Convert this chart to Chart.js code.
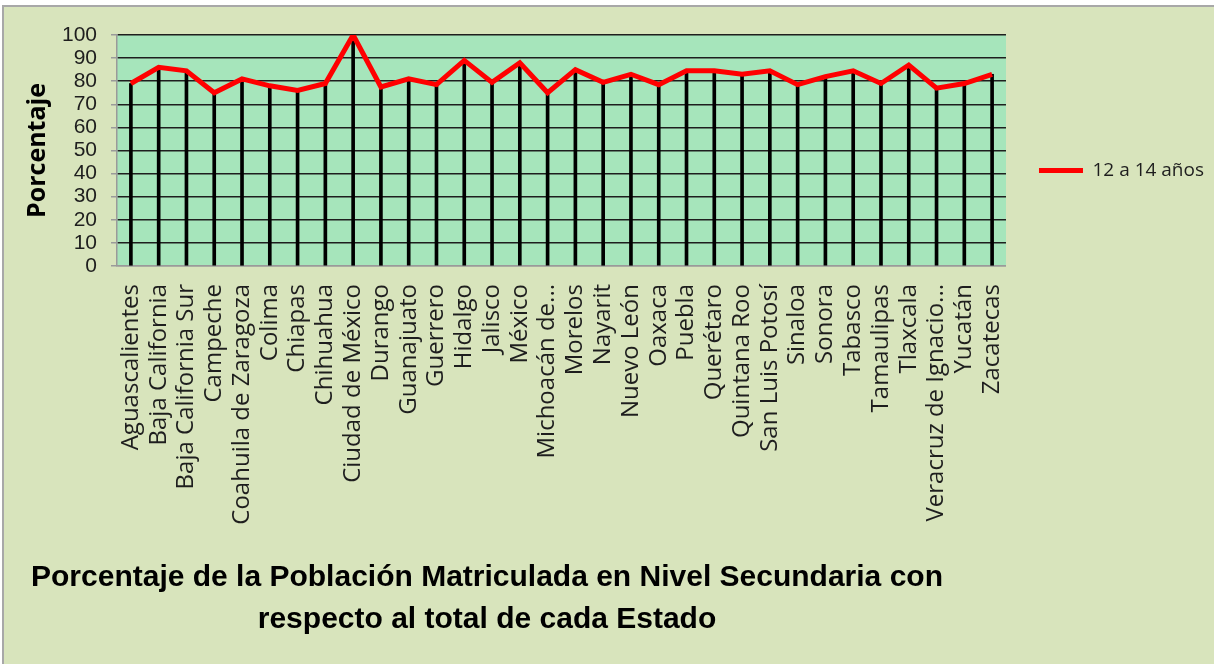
<!DOCTYPE html>
<html>
<head>
<meta charset="utf-8">
<script src="https://cdn.jsdelivr.net/npm/chart.js@4.4.0/dist/chart.umd.min.js"></script>
<style>
  html, body { margin: 0; padding: 0; background: #ffffff; overflow: hidden; }
  #frame { position: absolute; left: 2px; top: 5px; width: 1212px; height: 659px;
           border-left: 2px solid #a8a8a8; border-top: 2px solid #a8a8a8; background: #d8e4bc; }
  #wrap { position: absolute; left: 0; top: 0; width: 1210px; height: 657px; }
</style>
</head>
<body>
<div id="frame"><div id="wrap"><canvas id="c"></canvas></div></div>
<script>
const categories = [
  "Aguascalientes", "Baja California", "Baja California Sur", "Campeche",
  "Coahuila de Zaragoza", "Colima", "Chiapas", "Chihuahua", "Ciudad de México",
  "Durango", "Guanajuato", "Guerrero", "Hidalgo", "Jalisco", "México",
  "Michoacán de...", "Morelos", "Nayarit", "Nuevo León", "Oaxaca", "Puebla",
  "Querétaro", "Quintana Roo", "San Luis Potosí", "Sinaloa", "Sonora", "Tabasco",
  "Tamaulipas", "Tlaxcala", "Veracruz de Ignacio...", "Yucatán", "Zacatecas"
];
const values_12a14 = [
  79, 86, 84.5, 75, 81, 78, 76, 79, 100, 77.5, 81, 78.5, 89, 79.5, 88,
  75, 85, 79.5, 83, 78.5, 84.5, 84.5, 83, 84.5, 78.5, 82, 84.5, 79, 87, 77, 79, 83
];
const seriesName = "12 a 14 años";
const yAxisTitle = "Porcentaje";
const titleLines = [
  "Porcentaje de la Población Matriculada en Nivel Secundaria con",
  "respecto al total de cada Estado"
];
const yTicks = [0, 10, 20, 30, 40, 50, 60, 70, 80, 90, 100];

const plotBg = {
  id: 'plotBg',
  beforeDraw(chart) {
    const a = chart.chartArea, ctx = chart.ctx;
    ctx.save();
    ctx.fillStyle = '#a6e5bb';
    ctx.fillRect(a.left, a.top, a.right - a.left, a.bottom - a.top);
    ctx.restore();
  }
};
const bottomTitle = {
  id: 'bottomTitle',
  afterDraw(chart) {
    const ctx = chart.ctx;
    ctx.save();
    ctx.fillStyle = '#000000';
    ctx.font = 'bold 30px "Liberation Sans Narrow", "Arial Narrow", "Liberation Sans", sans-serif';
    ctx.textAlign = 'center';
    ctx.textBaseline = 'alphabetic';
    ctx.fillText(titleLines[0], 483, 579);
    ctx.fillText(titleLines[1], 483, 621);
    ctx.restore();
  }
};

new Chart(document.getElementById('c'), {
  data: {
    labels: categories,
    datasets: [
      {
        type: 'line',
        label: seriesName,
        data: values_12a14,
        borderColor: '#ff0000',
        backgroundColor: '#ff0000',
        borderWidth: 5,
        pointRadius: 0,
        tension: 0,
        order: 0
      },
      {
        type: 'bar',
        label: 'drop',
        data: values_12a14,
        backgroundColor: '#000000',
        barThickness: 3,
        order: 1
      }
    ]
  },
  options: {
    responsive: true,
    maintainAspectRatio: false,
    animation: false,
    layout: { padding: { top: 28, left: 8, right: 0, bottom: 0 } },
    plugins: {
      tooltip: { enabled: false },
      title: { display: false },
      legend: {
        position: 'right',
        fullSize: false,
        maxWidth: 230,
        title: { display: true, text: ' ', font: { size: 10 }, padding: { top: 28, bottom: 0 } },
        labels: {
          padding: 33,
          boxWidth: 44,
          boxHeight: 5,
          color: '#1e1e1e',
          font: { family: '"Open Sans", sans-serif', size: 19 },
          generateLabels(chart) {
            return [{ text: seriesName, fillStyle: '#ff0000', strokeStyle: '#ff0000',
                      fontColor: '#1e1e1e', lineWidth: 0, datasetIndex: 0, hidden: false }];
          }
        }
      }
    },
    scales: {
      x: {
        offset: true,
        grid: { display: false },
        border: { display: true, color: '#9a9a9a', width: 1.5 },
        afterFit(s) { s.height = 398; },
        ticks: {
          autoSkip: false,
          minRotation: 90,
          maxRotation: 90,
          padding: 10,
          color: '#1e1e1e',
          font: { family: '"Open Sans", sans-serif', size: 24 }
        }
      },
      y: {
        min: 0,
        max: 100,
        afterFit(s) { s.width = 105; },
        afterBuildTicks(s) { s.ticks = yTicks.map(v => ({ value: v })); },
        grid: {
          color: (ctx) => ctx.tick && ctx.tick.value === 0 ? '#9a9a9a' : '#1e1e1e',
          lineWidth: 1.5,
          drawTicks: true,
          tickLength: 6,
          tickColor: '#9a9a9a'
        },
        border: { display: true, color: '#9a9a9a', width: 1.5 },
        title: {
          display: true,
          text: yAxisTitle,
          color: '#000000',
          padding: { top: 11, bottom: 0 },
          font: { family: '"Open Sans", sans-serif', size: 25, weight: 'bold' }
        },
        ticks: {
          autoSkip: false,
          padding: 14,
          color: '#1e1e1e',
          font: { family: '"Liberation Sans Narrow", "Arial Narrow", "Liberation Sans", sans-serif', size: 21 }
        }
      }
    }
  },
  plugins: [plotBg, bottomTitle]
});
</script>
</body>
</html>
